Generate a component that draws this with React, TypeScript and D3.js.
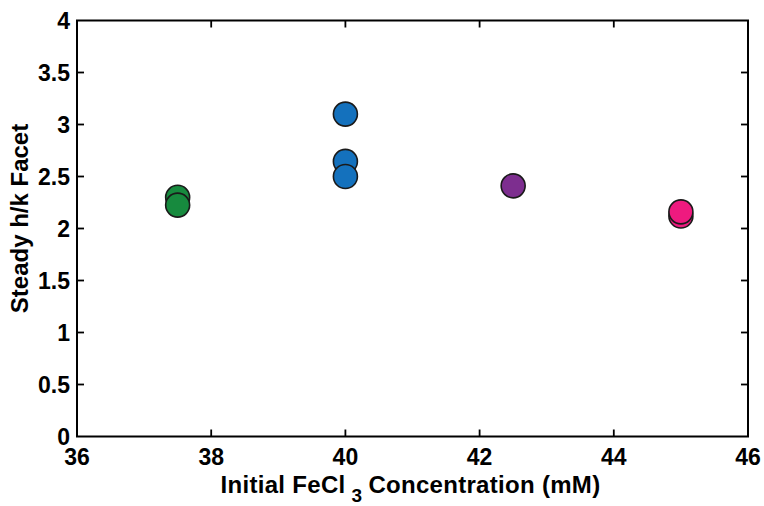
import React from "react";
import * as d3 from "d3";

const xTicks = [36, 38, 40, 42, 44, 46];
const yTicks = [0, 0.5, 1, 1.5, 2, 2.5, 3, 3.5, 4];
const yTickLabels = ["0", "0.5", "1", "1.5", "2", "2.5", "3", "3.5", "4"];

// points in drawing order
const pointX = [37.5, 37.5, 40, 40, 40, 42.5, 45, 45];
const pointY = [2.3, 2.225, 3.1, 2.645, 2.5, 2.41, 2.12, 2.16];
const pointGroup = ["g", "g", "b", "b", "b", "p", "m", "m"];
const groupColors: Record<string, string> = {
  g: "#178a3e",
  b: "#1471bd",
  p: "#7d2e8f",
  m: "#ee1a7f",
};

const W = 764;
const H = 506;
const left = 77;
const right = 748;
const top = 20.5;
const bottom = 436.5;

export default function App() {
  const x = d3.scaleLinear().domain([36, 46]).range([left, right]);
  const y = d3.scaleLinear().domain([0, 4]).range([bottom, top]);
  const font = "'Liberation Sans', Arial, Helvetica, sans-serif";
  const tickLen = 7;
  return (
    <svg
      width={W}
      height={H}
      style={{ position: "absolute", left: 0, top: 0, background: "#fff" }}
      fontFamily={font}
    >
      <rect x={0} y={0} width={W} height={H} fill="#fff" />
      {/* ticks */}
      {xTicks.slice(1, -1).map((t) => (
        <g key={"xt" + t}>
          <line x1={x(t)} x2={x(t)} y1={bottom} y2={bottom - tickLen} stroke="#000" strokeWidth={1.8} />
          <line x1={x(t)} x2={x(t)} y1={top} y2={top + tickLen} stroke="#000" strokeWidth={1.8} />
        </g>
      ))}
      {yTicks.slice(1, -1).map((t) => (
        <g key={"yt" + t}>
          <line x1={left} x2={left + tickLen} y1={y(t)} y2={y(t)} stroke="#000" strokeWidth={1.8} />
          <line x1={right} x2={right - tickLen} y1={y(t)} y2={y(t)} stroke="#000" strokeWidth={1.8} />
        </g>
      ))}
      <rect x={left} y={top} width={right - left} height={bottom - top} fill="none" stroke="#000" strokeWidth={2} />
      {/* tick labels */}
      {xTicks.map((t) => (
        <text key={"xl" + t} x={x(t)} y={465} textAnchor="middle" fontSize={23} fontWeight="bold">
          {t}
        </text>
      ))}
      {yTicks.map((t, i) => (
        <text key={"yl" + t} x={70} y={y(t) + 8} textAnchor="end" fontSize={23} fontWeight="bold">
          {yTickLabels[i]}
        </text>
      ))}
      {/* points */}
      {pointX.map((px, i) => (
        <circle
          key={"p" + i}
          cx={x(px)}
          cy={y(pointY[i])}
          r={12}
          fill={groupColors[pointGroup[i]]}
          stroke="#1a1a1a"
          strokeWidth={1.6}
        />
      ))}
      {/* axis labels */}
      <text x={410.5} y={493} textAnchor="middle" fontSize={24} fontWeight="bold" letterSpacing={0.3}>
        Initial FeCl
        <tspan dx={6} dy={9} fontSize={19}>3</tspan>
        <tspan dx={6} dy={-9}>Concentration (mM)</tspan>
      </text>
      <text
        transform={`translate(28, 218.5) rotate(-90)`}
        textAnchor="middle"
        fontSize={24}
        fontWeight="bold"
      >
        Steady h/k Facet
      </text>
    </svg>
  );
}
